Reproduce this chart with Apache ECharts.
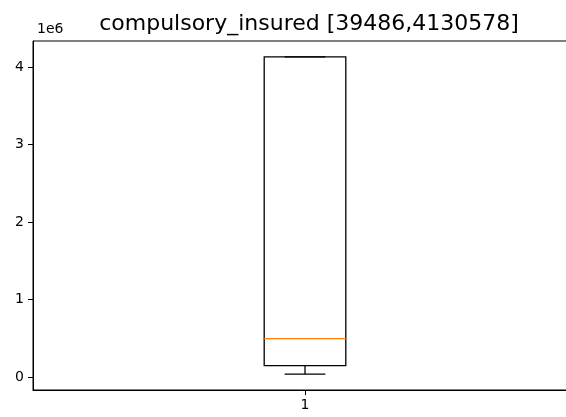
<!DOCTYPE html>
<html>
<head>
<meta charset="utf-8">
<script src="https://cdn.jsdelivr.net/npm/echarts@6/dist/echarts.min.js"></script>
<style>
html,body{margin:0;padding:0;background:#fff;overflow:hidden;}
#chart{width:566px;height:417px;}
</style>
</head>
<body>
<div id="chart"></div>
<script>
// Data
const categories = ['1'];
const whiskerLow = [39486];
const q1 = [150000];
const median = [497000];
const q3 = [4130578];
const whiskerHigh = [4130578];
const yTicks = [0, 1000000, 2000000, 3000000, 4000000];
const titleText = 'compulsory_insured [39486,4130578]';

// matplotlib-like axis limits (5% margin around data extent)
const dataMin = Math.min(...whiskerLow);
const dataMax = Math.max(...whiskerHigh);
const pad = (dataMax - dataMin) * 0.05;

const chart = echarts.init(document.getElementById('chart'), null, {renderer: 'canvas'});
const font = 'DejaVu Sans';

const seriesData = categories.map((c, i) => [i, whiskerLow[i], q1[i], median[i], q3[i], whiskerHigh[i]]);

chart.setOption({
  animation: false,
  backgroundColor: '#fff',
  title: {
    text: titleText,
    left: 304, textAlign: 'center',
    top: 8,
    textStyle: {fontFamily: font, fontSize: 22, fontWeight: 'normal', color: '#000'}
  },
  graphic: [{
    type: 'text',
    left: 37, top: 22,
    style: {text: '1e6', font: '14px "DejaVu Sans"', fill: '#000'}
  }],
  grid: {
    left: 33, width: 544, top: 41, height: 349,
    outerBoundsMode: 'none',
    containLabel: false,
    show: true, borderColor: '#000', borderWidth: 1, backgroundColor: 'transparent'
  },
  xAxis: {
    type: 'category',
    data: categories,
    boundaryGap: true,
    axisLine: {show: true, onZero: false, lineStyle: {color: '#000', width: 1}},
    axisTick: {show: true, alignWithLabel: true, length: 5, lineStyle: {color: '#000', width: 1}},
    axisLabel: {margin: 8, fontFamily: font, fontSize: 14, color: '#000'},
    splitLine: {show: false}
  },
  yAxis: {
    type: 'value',
    min: dataMin - pad,
    max: dataMax + pad,
    axisLine: {show: true, onZero: false, lineStyle: {color: '#000', width: 1}},
    axisTick: {show: true, length: 5, customValues: yTicks, lineStyle: {color: '#000', width: 1}},
    axisLabel: {
      customValues: yTicks,
      margin: 9, fontFamily: font, fontSize: 14, color: '#000',
      formatter: v => String(Math.round(v / 1e6))
    },
    splitLine: {show: false}
  },
  series: [{
    type: 'custom',
    data: seriesData,
    encode: {x: 0, y: [1, 2, 3, 4, 5]},
    clip: false,
    renderItem: function (params, api) {
      const x = api.value(0);
      const band = api.size([1, 0])[0];
      const bw = band * 0.15;
      const cw = bw / 2;
      const pLow = api.coord([x, api.value(1)]);
      const pQ1 = api.coord([x, api.value(2)]);
      const pMed = api.coord([x, api.value(3)]);
      const pQ3 = api.coord([x, api.value(4)]);
      const pHigh = api.coord([x, api.value(5)]);
      const cx = pQ1[0];
      const ls = {stroke: '#000', lineWidth: 1.3, fill: null};
      return {
        type: 'group',
        children: [
          {type: 'line', shape: {x1: cx, y1: pQ1[1], x2: cx, y2: pLow[1]}, style: ls},
          {type: 'line', shape: {x1: cx - cw / 2, y1: pLow[1], x2: cx + cw / 2, y2: pLow[1]}, style: ls},
          {type: 'line', shape: {x1: cx, y1: pQ3[1], x2: cx, y2: pHigh[1]}, style: ls},
          {type: 'line', shape: {x1: cx - cw / 2, y1: pHigh[1], x2: cx + cw / 2, y2: pHigh[1]}, style: ls},
          {type: 'rect', shape: {x: cx - bw / 2, y: pQ3[1], width: bw, height: pQ1[1] - pQ3[1]}, style: ls},
          {type: 'line', shape: {x1: cx - bw / 2, y1: pMed[1], x2: cx + bw / 2, y2: pMed[1]}, style: {stroke: '#ff7f0e', lineWidth: 1.3}}
        ]
      };
    }
  }]
});
</script>
</body>
</html>
